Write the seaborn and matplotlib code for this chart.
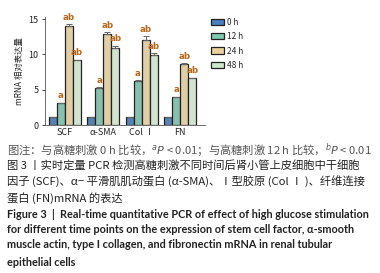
import pandas as pd
import matplotlib
matplotlib.use("Agg")
import matplotlib.pyplot as plt
import seaborn as sns
from matplotlib.patches import Patch

# 数据
genes = ['SCF', 'α-SMA', 'Col Ⅰ', 'FN']
times = ['0 h', '12 h', '24 h', '48 h']
val_0h = [1.15, 1.1, 1.12, 1.1]
val_12h = [3.05, 5.25, 6.25, 3.95]
val_24h = [14.0, 12.95, 12.1, 8.7]
val_48h = [9.15, 10.9, 9.85, 6.6]
err_0h = [0.05, 0.05, 0.05, 0.05]
err_12h = [0.12, 0.08, 0.12, 0.08]
err_24h = [0.3, 0.15, 0.5, 0.08]
err_48h = [0.12, 0.3, 0.3, 0.08]
marks = {'0 h': '', '12 h': 'a', '24 h': 'ab', '48 h': 'ab'}
palette = {'0 h': '#4a7fc0', '12 h': '#7fc9b2', '24 h': '#e9d29c', '48 h': '#cfe8cb'}

caption_cn = [
    '图注：与高糖刺激 0 h 比较，$^{a}P$ < 0.01；与高糖刺激 12 h 比较，$^{b}P$ < 0.01',
    '图 3 丨实时定量 PCR 检测高糖刺激不同时间后肾小管上皮细胞中干细胞',
    '因子 (SCF)、α− 平滑肌肌动蛋白 (α-SMA)、Ⅰ型胶原 (Col Ⅰ )、纤维连接',
    '蛋白 (FN)mRNA 的表达',
]
caption_en = [
    'Figure 3  |  Real-time quantitative PCR of effect of high glucose stimulation',
    'for different time points on the expression of stem cell factor, α-smooth',
    'muscle actin, type I collagen, and fibronectin mRNA in renal tubular',
    'epithelial cells',
]

vals = [val_0h, val_12h, val_24h, val_48h]
errs = [err_0h, err_12h, err_24h, err_48h]
rows = []
for t, v, e in zip(times, vals, errs):
    for g, vv, ee in zip(genes, v, e):
        rows.append({'Gene': g, 'Time': t, 'Value': vv, 'Err': ee})
df = pd.DataFrame(rows)

sns.set_style('white')
plt.rcParams['font.family'] = ['Noto Sans CJK SC', 'DejaVu Sans']
plt.rcParams['mathtext.fontset'] = 'dejavusans'

fig = plt.figure(figsize=(3.8, 2.73), dpi=100)
ax = fig.add_axes([0.118, 0.542, 0.422, 0.396])

sns.barplot(data=df, x='Gene', y='Value', hue='Time', order=genes, hue_order=times,
            palette=palette, width=0.84, gap=0, errorbar=None, edgecolor='#222222',
            linewidth=0.9, ax=ax, legend=False)

# 误差线与显著性标注
for cont, t in zip(ax.containers, times):
    sub = df[df['Time'] == t].set_index('Gene').loc[genes]
    for bar, v, e in zip(cont, sub['Value'], sub['Err']):
        x = bar.get_x() + bar.get_width() / 2
        ax.errorbar(x, v, yerr=[[0], [e]], color='#666666', capsize=2, elinewidth=0.7,
                    capthick=0.7)
        if marks[t]:
            ax.text(x, v + e + 0.35, marks[t], ha='center', va='bottom', fontsize=6.3,
                    color='#b8691c', fontweight='bold', family='DejaVu Sans')

ax.set_ylim(0, 15.3)
ax.set_xlim(-0.52, 3.65)
ax.set_yticks([0, 5, 10, 15])
ax.set_xlabel('')
ax.set_ylabel('mRNA 相对表达量', fontsize=6, labelpad=3)
ax.tick_params(axis='y', labelsize=6.5, length=2.5, width=0.6, direction='out', left=True, pad=2)
ax.tick_params(axis='x', labelsize=6.5, length=0, pad=2)
for s in ['top', 'right']:
    ax.spines[s].set_visible(False)
for s in ['left', 'bottom']:
    ax.spines[s].set_linewidth(0.6)
    ax.spines[s].set_color('#555555')

# 图例
handles = [Patch(facecolor=palette[t], edgecolor='#222222', linewidth=0.9, label=t) for t in times]
fig.legend(handles=handles, loc='upper left', bbox_to_anchor=(0.555, 0.935), frameon=False,
           fontsize=6, handlelength=1.6, handleheight=0.8, handletextpad=0.3, labelspacing=0.65,
           borderaxespad=0, borderpad=0)

# 图注
y_cn = [150, 165, 181.5, 198]
cn_texts = []
for i, (line, yp) in enumerate(zip(caption_cn, y_cn)):
    cn_texts.append(fig.text(7 / 380, 1 - yp / 273, line, ha='left', va='center', fontsize=8,
                             color='#555555' if i == 0 else '#222222'))
y_en = [214, 229.5, 245, 263]
en_texts = []
for line, yp in zip(caption_en, y_en):
    en_texts.append(fig.text(7 / 380, 1 - yp / 273, line, ha='left', va='center', fontsize=7.8,
                             fontweight='bold', color='#222222', family=['Lato', 'DejaVu Sans']))

# 按参考图的行宽调整字号
r = fig.canvas.get_renderer()
for texts, target in [(cn_texts, 365), (en_texts, 365)]:
    w = texts[0].get_window_extent(r).width
    fs = texts[0].get_fontsize() * target / w
    for t in texts:
        t.set_fontsize(fs)

plt.savefig('out.png', dpi=100)
